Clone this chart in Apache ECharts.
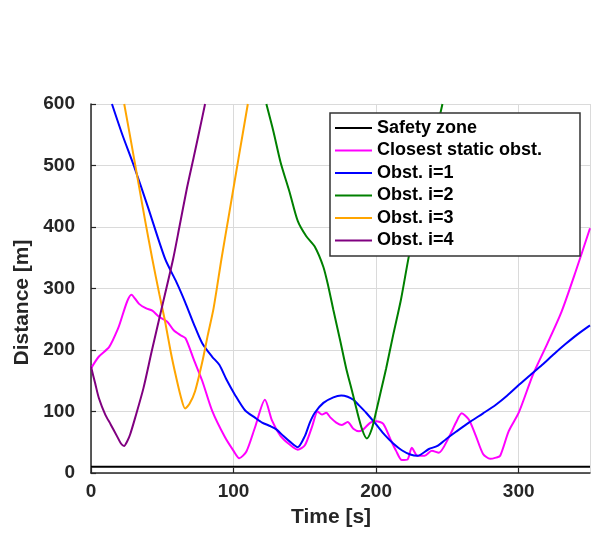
<!DOCTYPE html>
<html>
<head>
<meta charset="utf-8">
<script src="https://cdn.jsdelivr.net/npm/echarts@6/dist/echarts.min.js"></script>
<style>
  html, body { margin: 0; padding: 0; background: #fff; }
  #chart { width: 592px; height: 533px; }
</style>
</head>
<body>
<div id="chart"></div>
<script>
// values, time in s, distance in m
var xTicks = [0, 100, 200, 300]
var yTicks = [0, 100, 200, 300, 400, 500, 600]

var safetyT = [0, 350]
var safetyD = [10, 10]

var staticT = [0, 5.4, 12.8, 19, 28.4, 33.7, 38.4, 43, 47.7, 53.5, 58, 62.8, 66.3, 72, 78, 85, 94, 100, 104, 109, 115, 122, 127, 133, 140, 145, 150, 155, 159, 162, 165, 168, 172, 176, 180, 184, 188, 191, 196, 200, 205, 210, 214, 218, 222, 225, 229, 234, 239, 244, 251, 256, 260, 265, 270, 275, 280, 284, 287, 293, 300, 310, 320, 330, 340, 350]
var staticD = [170, 189, 205, 235, 290, 275, 268, 264, 254, 246, 232, 224, 219, 185, 150, 101, 58, 36, 24, 35, 74, 119, 85, 60, 45, 38, 45, 75, 100, 95, 98, 90, 82, 78, 83, 72, 68, 71, 82, 84, 80, 55, 36, 21, 22, 41, 28, 28, 36, 33, 58, 82, 97, 87, 60, 31, 23, 25, 28, 68, 98, 160, 210, 262, 328, 398]

var obst1T = [14.7, 22, 30, 40, 52, 60, 66, 72, 78, 85, 90, 95, 101, 108, 115, 120, 126, 130, 135, 139.5, 145, 150, 153.5, 157, 163, 170, 175.5, 180, 184, 188, 193, 200, 206, 212, 218, 224, 229, 237, 243, 249, 256, 265, 275, 284, 292, 300, 308, 316.5, 325, 333, 341, 350]
var obst1D = [600, 550, 500, 432, 348, 310, 278, 243, 211, 189, 176, 152, 127, 102, 90, 82, 76, 71, 60, 51, 42, 60, 82, 98, 114, 123, 126, 124, 119, 110, 98, 79, 62, 48, 37, 30, 28, 39, 44, 55, 67, 82, 97, 111, 126, 143, 159, 176, 194, 210, 225, 240]

var obst2T = [123, 128, 133, 139.5, 145, 151, 157, 163, 166.5, 170, 175, 179, 183, 186, 190, 193.5, 197, 200, 203.5, 207, 212, 217.5, 223, 230, 238, 246.5]
var obst2D = [600, 555, 505, 455, 410, 385, 368, 335, 303, 265, 213, 170, 134, 106, 72, 56, 72, 100, 135, 170, 225, 283, 353, 427, 512, 600]

var obst3T = [23.3, 28, 33, 38, 43, 48, 52, 56, 59.5, 63, 66, 69, 73, 78, 82, 86, 91.5, 97, 103.5, 110]
var obst3D = [600, 540, 475, 410, 348, 290, 246, 196, 158, 124, 105, 112, 133, 180, 225, 268, 348, 423, 512, 600]

var obst4T = [0, 3, 5.5, 10, 13.8, 18.2, 21, 23.2, 25.5, 27.5, 31, 36.8, 42.5, 49.5, 57.6, 62, 67.1, 72, 76, 80]
var obst4D = [173, 145, 122, 95, 79, 60, 48, 44, 52, 63, 90, 138, 197, 267, 348, 400, 461, 513, 556, 600]

var names = ['Safety zone', 'Closest static obst.', 'Obst. i=1', 'Obst. i=2', 'Obst. i=3', 'Obst. i=4']
var colors = ['#000000', '#ff00ff', '#0000ff', '#008000', '#ffa500', '#800080']

function zip (ts, ds) {
  return ts.map(function (t, i) { return [t, ds[i]] })
}

var font = '"Liberation Sans", Arial, Helvetica, sans-serif'
var dark = '#262626'

function makeLine (idx, ts, ds) {
  return {
    name: names[idx],
    type: 'line',
    data: zip(ts, ds),
    smooth: idx === 0 ? false : 0.25,
    symbol: 'none',
    showSymbol: false,
    clip: true,
    itemStyle: { color: colors[idx] },
    lineStyle: { color: colors[idx], width: 2 }
  }
}

var myChart = echarts.init(document.getElementById('chart'), null, { renderer: 'canvas' })

var option = {
  animation: false,
  backgroundColor: '#ffffff',
  grid: { left: 91, right: 2, top: 104, bottom: 57, containLabel: false },
  xAxis: {
    type: 'value',
    min: 0,
    max: 350,
    interval: 100,
    name: 'Time [s]',
    nameLocation: 'middle',
    nameGap: 34,
    nameTextStyle: { fontFamily: font, fontWeight: 'bold', fontSize: 21, color: dark, padding: [0, 19, 0, 0] },
    axisLine: { show: true, onZero: false, lineStyle: { color: dark, width: 1.5 } },
    axisTick: { show: true, inside: true, length: 5, lineStyle: { color: dark, width: 1.2 } },
    axisLabel: {
      fontFamily: font, fontWeight: 'bold', fontSize: 19, color: dark, margin: 9,
      showMaxLabel: false,
      formatter: function (v) { return xTicks.indexOf(v) >= 0 ? String(v) : '' }
    },
    splitLine: { show: true, lineStyle: { color: '#dadada', width: 1 } }
  },
  yAxis: {
    type: 'value',
    min: 0,
    max: 600,
    interval: 100,
    name: 'Distance [m]',
    nameLocation: 'middle',
    nameGap: 58,
    nameRotate: 90,
    nameTextStyle: { fontFamily: font, fontWeight: 'bold', fontSize: 21, color: dark, padding: [0, 28, 0, 0] },
    axisLine: { show: true, onZero: false, lineStyle: { color: dark, width: 1.5 } },
    axisTick: { show: true, inside: true, length: 5, lineStyle: { color: dark, width: 1.2 } },
    axisLabel: {
      fontFamily: font, fontWeight: 'bold', fontSize: 19, color: dark, margin: 16,
      formatter: function (v) { return yTicks.indexOf(v) >= 0 ? String(v) : '' }
    },
    splitLine: { show: true, lineStyle: { color: '#dadada', width: 1 } }
  },
  legend: {
    orient: 'vertical',
    left: 330,
    top: 113,
    padding: [4, 5],
    itemGap: 0.5,
    itemWidth: 37,
    itemHeight: 2,
    icon: 'rect',
    align: 'left',
    z: 10,
    data: names,
    textStyle: { fontFamily: font, fontWeight: 'bold', fontSize: 18, color: '#000', lineHeight: 22, padding: [0, 0, 0, 0] }
  },
  graphic: [{
    type: 'rect',
    z: 9,
    shape: { x: 330, y: 113, width: 250, height: 143 },
    style: { fill: '#ffffff', stroke: '#333333', lineWidth: 1.5 }
  }],
  series: [
    makeLine(0, safetyT, safetyD),
    makeLine(1, staticT, staticD),
    makeLine(2, obst1T, obst1D),
    makeLine(3, obst2T, obst2D),
    makeLine(4, obst3T, obst3D),
    makeLine(5, obst4T, obst4D)
  ]
}

myChart.setOption(option)
</script>
</body>
</html>
